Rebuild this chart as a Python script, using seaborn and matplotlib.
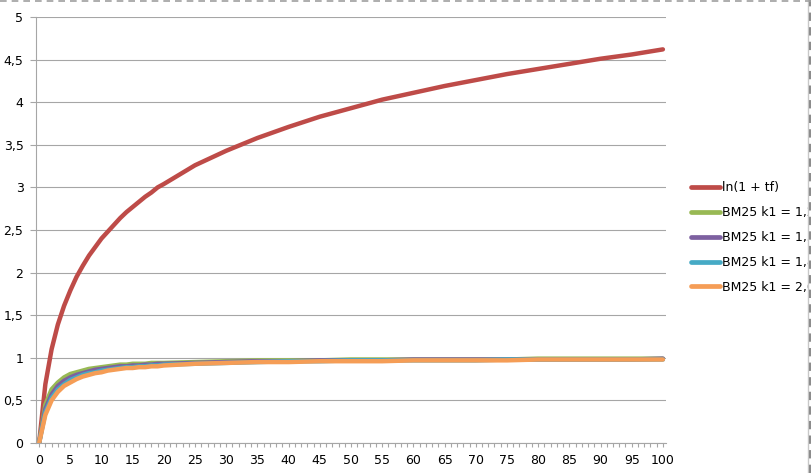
import numpy as np
import pandas as pd
import matplotlib
matplotlib.use("Agg")
import matplotlib.pyplot as plt
import matplotlib.ticker as mticker
from matplotlib.lines import Line2D
import seaborn as sns

# values
tf = [0, 1, 2, 3, 4, 5, 6, 7, 8, 9, 10, 11, 12, 13, 14, 15, 16, 17, 18, 19, 20,
      25, 30, 35, 40, 45, 50, 55, 60, 65, 70, 75, 80, 85, 90, 95, 100]
ln_tf = [0, 0.69, 1.10, 1.39, 1.61, 1.79, 1.95, 2.08, 2.20, 2.30, 2.40, 2.48, 2.56,
         2.64, 2.71, 2.77, 2.83, 2.89, 2.94, 3.00, 3.04,
         3.26, 3.43, 3.58, 3.71, 3.83, 3.93, 4.03, 4.11, 4.19, 4.26, 4.33, 4.39,
         4.45, 4.51, 4.56, 4.62]
bm25_12 = [0, 0.45, 0.63, 0.71, 0.77, 0.81, 0.83, 0.85, 0.87, 0.88, 0.89, 0.90, 0.91,
           0.92, 0.92, 0.93, 0.93, 0.93, 0.94, 0.94, 0.94,
           0.95, 0.96, 0.97, 0.97, 0.97, 0.98, 0.98, 0.98, 0.98, 0.98, 0.98, 0.99,
           0.99, 0.99, 0.99, 0.99]
bm25_15 = [0, 0.40, 0.57, 0.67, 0.73, 0.77, 0.80, 0.82, 0.84, 0.86, 0.87, 0.88, 0.89,
           0.90, 0.90, 0.91, 0.91, 0.92, 0.92, 0.93, 0.93,
           0.94, 0.95, 0.96, 0.96, 0.97, 0.97, 0.97, 0.98, 0.98, 0.98, 0.98, 0.98,
           0.98, 0.98, 0.98, 0.99]
bm25_18 = [0, 0.36, 0.53, 0.63, 0.69, 0.74, 0.77, 0.80, 0.82, 0.83, 0.85, 0.86, 0.87,
           0.88, 0.89, 0.89, 0.90, 0.90, 0.91, 0.91, 0.92,
           0.93, 0.94, 0.95, 0.96, 0.96, 0.97, 0.97, 0.97, 0.97, 0.97, 0.98, 0.98,
           0.98, 0.98, 0.98, 0.98]
bm25_20 = [0, 0.33, 0.50, 0.60, 0.67, 0.71, 0.75, 0.78, 0.80, 0.82, 0.83, 0.85, 0.86,
           0.87, 0.88, 0.88, 0.89, 0.89, 0.90, 0.90, 0.91,
           0.93, 0.94, 0.95, 0.95, 0.96, 0.96, 0.96, 0.97, 0.97, 0.97, 0.97, 0.98,
           0.98, 0.98, 0.98, 0.98]

series = ["ln(1 + tf)", "BM25 k1 = 1,2", "BM25 k1 = 1,5", "BM25 k1 = 1,8", "BM25 k1 = 2,0"]
colors = ["#BE4B48", "#98B954", "#7D60A0", "#46AAC5", "#F59D56"]

df = pd.concat([
    pd.DataFrame({"tf": tf, "value": vals, "series": name})
    for name, vals in zip(series, [ln_tf, bm25_12, bm25_15, bm25_18, bm25_20])
])

sns.set_style("white")
plt.rcParams["font.family"] = ["DejaVu Sans"]
plt.rcParams["text.color"] = "black"
plt.rcParams["xtick.labelcolor"] = "black"
plt.rcParams["ytick.labelcolor"] = "black"

fig = plt.figure(figsize=(8.12, 4.73), dpi=100)
ax = fig.add_axes([36 / 812, 30 / 473, 630 / 812, 426 / 473])

sns.lineplot(data=df, x="tf", y="value", hue="series", hue_order=series,
             palette=colors, linewidth=3.2, ax=ax, legend=False)

ax.set_xlim(-0.5, 100.5)
ax.set_ylim(0, 5)
ax.set_xlabel("")
ax.set_ylabel("")

grid_c = "#A6A6A6"
ax.yaxis.set_major_locator(mticker.MultipleLocator(0.5))
ax.yaxis.set_major_formatter(mticker.FuncFormatter(
    lambda v, p: ("%g" % v).replace(".", ",")))
ax.xaxis.set_major_locator(mticker.MultipleLocator(5))
ax.xaxis.set_minor_locator(mticker.MultipleLocator(1))
ax.grid(axis="y", color=grid_c, linewidth=0.8)
ax.set_axisbelow(True)
for s in ["top", "right"]:
    ax.spines[s].set_visible(False)
for s in ["left", "bottom"]:
    ax.spines[s].set_color(grid_c)
    ax.spines[s].set_linewidth(0.8)
ax.tick_params(axis="y", which="major", left=True, length=4, width=0.8,
               color=grid_c, labelsize=9, labelcolor="black", pad=5)
ax.tick_params(axis="x", which="both", bottom=True, length=3, width=0.8,
               color=grid_c, labelsize=9, labelcolor="black", pad=5)

handles = [Line2D([0], [0], color=c, linewidth=3.4) for c in colors]
fig.legend(handles, series, loc="center left", bbox_to_anchor=(691 / 812, 1 - 237.5 / 473),
           frameon=False, fontsize=9, handlelength=2.3, handletextpad=0.15,
           labelspacing=0.95, borderpad=0, borderaxespad=0, labelcolor="black")

# clipped right edge of the screenshot
fig.patches.append(plt.Rectangle((809 / 812, 0), 3 / 812, 1, transform=fig.transFigure,
                                 facecolor="white", edgecolor="none", zorder=10))
fig.add_artist(Line2D([808.5 / 812, 808.5 / 812], [0, 1], transform=fig.transFigure,
                      color="#C8C8C8", linewidth=1, zorder=11))
fig.add_artist(Line2D([810.5 / 812, 810.5 / 812], [0, 1], transform=fig.transFigure,
                      color="#8C8C8C", linewidth=1.5, linestyle=(0, (4, 3)), zorder=11))
fig.add_artist(Line2D([0, 1], [471.5 / 473, 471.5 / 473], transform=fig.transFigure,
                      color="#A0A0A0", linewidth=1.2, linestyle=(0, (4, 3)), zorder=11))

fig.savefig("out.png", dpi=100)
